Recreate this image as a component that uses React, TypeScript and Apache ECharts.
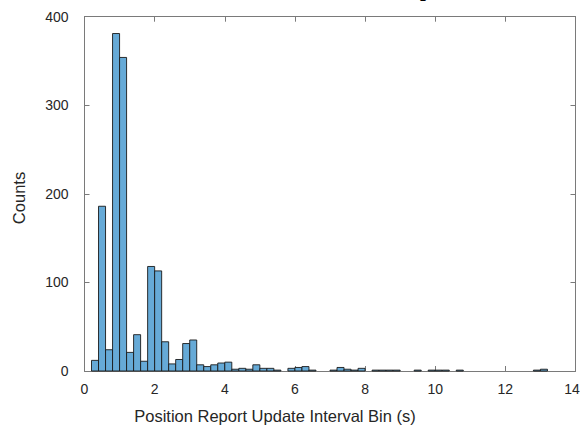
import React, { useEffect, useRef } from "react";
import * as echarts from "echarts";

// Histogram bin left/right edges (s)
const binEdges = [
  0.2, 0.4, 0.6, 0.8, 1.0, 1.2, 1.4, 1.6, 1.8, 2.0,
  2.2, 2.4, 2.6, 2.8, 3.0, 3.2, 3.4, 3.6, 3.8, 4.0,
  4.2, 4.4, 4.6, 4.8, 5.0, 5.2, 5.4, 5.6, 5.8, 6.0,
  6.2, 6.4, 6.6, 6.8, 7.0, 7.2, 7.4, 7.6, 7.8, 8.0,
  8.2, 8.4, 8.6, 8.8, 9.0, 9.2, 9.4, 9.6, 9.8, 10.0,
  10.2, 10.4, 10.6, 10.8, 11.0, 11.2, 11.4, 11.6, 11.8, 12.0,
  12.2, 12.4, 12.6, 12.8, 13.0, 13.2, 13.4,
];

// Counts per bin
const counts = [
  12, 186, 24, 381, 354, 21, 41, 11, 118, 113,
  33, 8, 13, 31, 35, 7, 5, 7, 9, 10,
  2, 3, 2, 7, 3, 3, 1, 0, 3, 4,
  5, 1, 0, 0, 1, 4, 2, 1, 3, 0,
  1, 1, 1, 1, 0, 0, 1, 0, 1, 1,
  1, 0, 1, 0, 0, 0, 0, 0, 0, 0,
  0, 0, 0, 1, 2, 0,
];

const xTicks = { min: 0, max: 14, interval: 2 };
const yTicks = { min: 0, max: 400, interval: 100 };

const titleText = "Interval Between Reports";
const xLabel = "Position Report Update Interval Bin (s)";
const yLabel = "Counts";

export default function App() {
  const ref = useRef<HTMLDivElement>(null);

  useEffect(() => {
    if (!ref.current) return;
    const chart = echarts.init(ref.current, undefined, { renderer: "svg" });

    const axisColor = "#7a7a7a";
    const labelColor = "#262626";
    const sans = "'Liberation Sans', Arial, sans-serif";

    const data = counts.map((c, i) => [binEdges[i], binEdges[i + 1], c]);

    const commonX = {
      type: "value" as const,
      min: xTicks.min,
      max: xTicks.max,
      interval: xTicks.interval,
      axisLine: { show: true, onZero: false, lineStyle: { color: axisColor, width: 1 } },
      axisTick: { show: true, inside: true, length: 5, lineStyle: { color: axisColor, width: 1 } },
      splitLine: { show: false },
    };
    const commonY = {
      type: "value" as const,
      min: yTicks.min,
      max: yTicks.max,
      interval: yTicks.interval,
      axisLine: { show: true, onZero: false, lineStyle: { color: axisColor, width: 1 } },
      axisTick: { show: true, inside: true, length: 5, lineStyle: { color: axisColor, width: 1 } },
      splitLine: { show: false },
    };

    chart.setOption({
      animation: false,
      backgroundColor: "#ffffff",
      grid: {
        left: 84.5,
        right: 4.5,
        top: 16.7,
        bottom: 61,
        containLabel: false,
        outerBoundsMode: "none",
      },
      xAxis: [
        {
          ...commonX,
          position: "bottom",
          axisLabel: {
            color: labelColor,
            fontSize: 14,
            fontFamily: sans,
            margin: 11,
            formatter: (v: number) => (v === xTicks.max ? `{last|${v}}` : `${v}`),
            rich: {
              last: { fontSize: 14, fontFamily: sans, color: labelColor, padding: [0, 7, 0, 0] },
            },
          },
        },
        {
          ...commonX,
          position: "top",
          axisLabel: { show: false },
        },
      ],
      yAxis: [
        {
          ...commonY,
          position: "left",
          axisLabel: { color: labelColor, fontSize: 14, fontFamily: sans, margin: 16 },
        },
        {
          ...commonY,
          position: "right",
          axisLabel: { show: false },
        },
      ],
      series: [
        {
          type: "custom",
          xAxisIndex: 0,
          yAxisIndex: 0,
          encode: { x: [0, 1], y: 2 },
          data,
          renderItem: (params: any, api: any) => {
            const v = api.value(2);
            if (!v) return null;
            const p0 = api.coord([api.value(0), 0]);
            const p1 = api.coord([api.value(1), v]);
            return {
              type: "rect",
              shape: { x: p0[0], y: p1[1], width: p1[0] - p0[0], height: p0[1] - p1[1] },
              style: { fill: "#66aad7", stroke: "#1a1a1a", lineWidth: 0.9 },
            };
          },
        },
      ],
      graphic: [
        {
          type: "text",
          x: 237,
          y: -10.8,
          silent: true,
          style: {
            text: titleText,
            font: "bold 21px 'Liberation Serif', serif",
            fill: "#000000",
            textAlign: "left",
            textVerticalAlign: "middle",
          },
        },
        {
          type: "text",
          x: 275,
          y: 416,
          silent: true,
          style: {
            text: xLabel,
            font: `16.5px ${sans}`,
            fill: labelColor,
            textAlign: "center",
            textVerticalAlign: "middle",
          },
        },
        {
          type: "text",
          x: 18.5,
          y: 198,
          rotation: Math.PI / 2,
          silent: true,
          style: {
            text: yLabel,
            font: `16.5px ${sans}`,
            fill: labelColor,
            textAlign: "center",
            textVerticalAlign: "middle",
          },
        },
      ],
    });

    return () => chart.dispose();
  }, []);

  return (
    <div
      ref={ref}
      style={{ position: "fixed", left: 0, top: 0, width: 580, height: 432 }}
    />
  );
}
